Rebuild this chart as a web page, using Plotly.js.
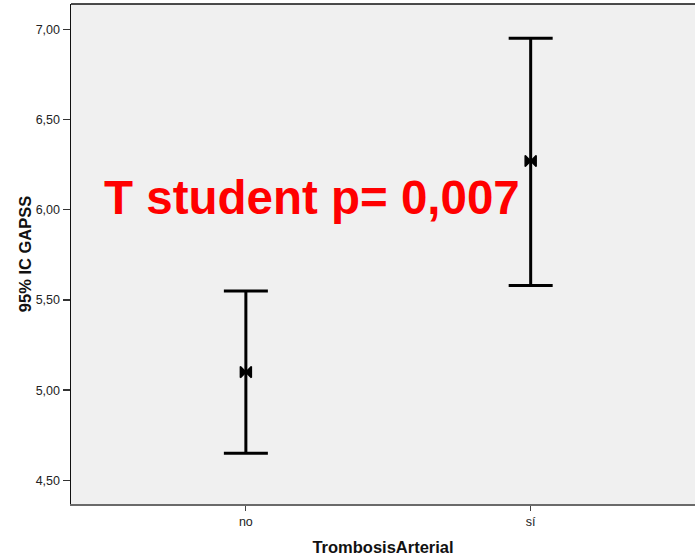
<!DOCTYPE html>
<html>
<head>
<meta charset="utf-8">
<script src="https://cdn.plot.ly/plotly-3.0.1.min.js"></script>
<style>html,body{margin:0;padding:0;background:#fff;}#chart{width:695px;height:558px;}</style>
</head>
<body>
<div id="chart"></div>
<script>
// Data (95% CI of GAPSS by arterial thrombosis)
const categories = ['no', 'sí'];
const means = [5.10, 6.27];
const upperCI = [5.55, 6.95];
const lowerCI = [4.65, 5.58];
const yTickVals = [4.5, 5.0, 5.5, 6.0, 6.5, 7.0];
const yTickText = ['4,50', '5,00', '5,50', '6,00', '6,50', '7,00'];
const annotationText = 'T student p= 0,007';

const xIdx = categories.map((c, i) => i);
const trace = {
  type: 'scatter',
  mode: 'markers',
  x: xIdx,
  y: means,
  marker: {symbol: 'bowtie', size: 11, color: '#000', line: {color: '#000', width: 1.5}},
  error_y: {
    type: 'data',
    symmetric: false,
    array: upperCI.map((u, i) => u - means[i]),
    arrayminus: lowerCI.map((l, i) => means[i] - l),
    color: '#000',
    thickness: 3,
    width: 22
  },
  hoverinfo: 'skip',
  showlegend: false
};

const layout = {
  width: 695,
  height: 558,
  margin: {l: 71, r: 0, t: 4, b: 54, pad: 0},
  paper_bgcolor: '#ffffff',
  plot_bgcolor: '#f0f0f0',
  showlegend: false,
  xaxis: {
    range: [-0.614, 1.577],
    tickvals: xIdx,
    ticktext: categories,
    showgrid: false,
    zeroline: false,
    showline: true,
    linecolor: '#6a6a6a',
    linewidth: 2,
    ticks: 'outside',
    ticklen: 5,
    tickwidth: 1,
    tickcolor: '#444',
    tickfont: {family: 'Liberation Sans, Arial, sans-serif', size: 12.5, color: '#222'},
    title: {text: 'TrombosisArterial', standoff: 13,
            font: {family: 'Liberation Sans, Arial, sans-serif', size: 16.5, color: '#111', weight: 'bold'}},
    fixedrange: true
  },
  yaxis: {
    range: [4.369, 7.14],
    tickvals: yTickVals,
    ticktext: yTickText,
    showgrid: false,
    zeroline: false,
    showline: true,
    linecolor: '#111',
    linewidth: 1.5,
    ticks: 'outside',
    ticklen: 7,
    tickwidth: 1.5,
    tickcolor: '#333',
    tickfont: {family: 'Liberation Sans, Arial, sans-serif', size: 12.5, color: '#222'},
    title: {text: '95% IC GAPSS', standoff: 0,
            font: {family: 'Liberation Sans, Arial, sans-serif', size: 16.5, color: '#111', weight: 'bold'}},
    fixedrange: true
  },
  shapes: [
    {type: 'line', xref: 'paper', yref: 'paper', x0: 0, x1: 1, y0: 1, y1: 1,
     line: {color: '#111', width: 1.5}}
  ],
  annotations: [
    {text: annotationText, xref: 'paper', yref: 'paper', x: 0.3865, y: 0.614,
     xanchor: 'center', yanchor: 'middle', showarrow: false,
     font: {family: 'Liberation Sans, Arial, sans-serif', size: 47.5, color: '#ff0000', weight: 'bold'}}
  ]
};

Plotly.newPlot('chart', [trace], layout, {displayModeBar: false, staticPlot: true});
</script>
</body>
</html>
